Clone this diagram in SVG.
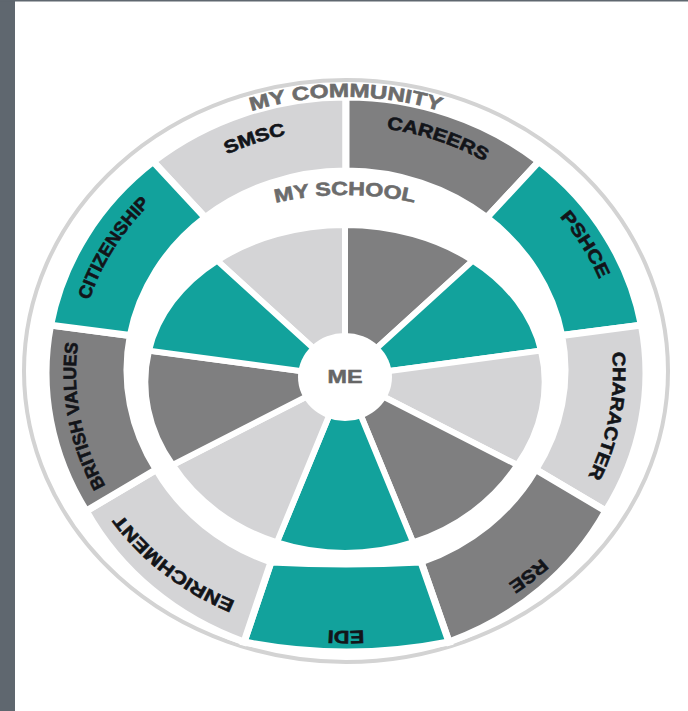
<svg xmlns="http://www.w3.org/2000/svg" width="688" height="711" viewBox="0 0 688 711">
<style>
.teal{fill:#12a29c}
.dark{fill:#7f7f80}
.light{fill:#d4d4d6}
.seg{stroke:#fff;stroke-width:7;stroke-linejoin:miter}
.wedge{stroke:#fff;stroke-width:6;stroke-linejoin:miter}
.lbl{font-family:"Liberation Sans",Arial,sans-serif;font-weight:bold;font-size:18px;fill:#121419;stroke:#121419;stroke-width:0.6}
.band{font-family:"Liberation Sans",Arial,sans-serif;font-weight:bold;font-size:19px;fill:#6c6c6c;stroke:#6c6c6c;stroke-width:0.6}
</style>
<defs>
<path id="p-community" d="M173.9,146.9 A300 276 0 0 1 518.1,146.9"/>
<path id="p-school" d="M190.7,237.6 A240 182 0 0 1 499.3,237.6"/>
<path id="p-smsc" d="M175.3,185.9 A265.5 244.3 0 0 1 346,128.7"/>
<path id="p-careers" d="M346,126 A268.5 247 0 0 1 518.6,183.8"/>
<path id="p-pshce" d="M521.5,180.6 A273 251.2 0 0 1 614.8,329.4"/>
<path id="p-character" d="M608.9,330.4 A267 245.6 0 0 1 577.2,495.8"/>
<path id="p-rse" d="M588.9,502 A280.5 258.1 0 0 1 441.9,615.5"/>
<path id="p-edi" d="M441.9,615.4 A280.4 258 0 0 1 250.1,615.4"/>
<path id="p-enrichment" d="M253.1,607.7 A271.5 249.8 0 0 1 110.9,497.9"/>
<path id="p-bv" d="M112.2,497.2 A270 248.4 0 0 1 80.1,329.9"/>
<path id="p-citizenship" d="M81.6,330.1 A268.5 247 0 0 1 173.4,183.8"/>
</defs>
<rect x="0" y="0" width="688" height="711" fill="#ffffff"/>
<rect x="0" y="0" width="15" height="711" fill="#5f676f"/>
<rect x="0" y="0" width="688" height="1.5" fill="#5f676f"/>

<g id="outer-ring">
<ellipse cx="346" cy="371" rx="322" ry="291" fill="none" stroke="#d3d3d3" stroke-width="4"/>
</g>

<g id="smsc">
<path class="seg light" d="M153.2,161.6 A300 276 0 0 1 346,97 L346,171 A219 199 0 0 0 205.2,217.6 Z"/>
<text class="lbl"><textPath href="#p-smsc" startOffset="50%" text-anchor="middle" textLength="62" lengthAdjust="spacingAndGlyphs">SMSC</textPath></text>
</g>
<g id="careers">
<path class="seg dark" d="M346,97 A300 276 0 0 1 538.8,161.6 L486.8,217.6 A219 199 0 0 0 346,171 Z"/>
<text class="lbl"><textPath href="#p-careers" startOffset="50%" text-anchor="middle" textLength="104" lengthAdjust="spacingAndGlyphs">CAREERS</textPath></text>
</g>
<g id="pshce">
<path class="seg teal" d="M538.8,161.6 A300 276 0 0 1 641.4,325.1 L561.7,335.5 A219 199 0 0 0 486.8,217.6 Z"/>
<text class="lbl"><textPath href="#p-pshce" startOffset="50%" text-anchor="middle" textLength="74" lengthAdjust="spacingAndGlyphs">PSHCE</textPath></text>
</g>
<g id="character">
<path class="seg light" d="M641.4,325.1 A300 276 0 0 1 605.8,511 L535.7,469.5 A219 199 0 0 0 561.7,335.5 Z"/>
<text class="lbl"><textPath href="#p-character" startOffset="50%" text-anchor="middle" textLength="128" lengthAdjust="spacingAndGlyphs">CHARACTER</textPath></text>
</g>
<g id="rse">
<path class="seg dark" d="M605.8,511 A300 276 0 0 1 449,642 L421,562 A219 199 0 0 0 535.7,469.5 Z"/>
<text class="lbl"><textPath href="#p-rse" startOffset="50%" text-anchor="middle" textLength="42" lengthAdjust="spacingAndGlyphs">RSE</textPath></text>
</g>
<g id="edi">
<path class="seg teal" d="M449,642 A530 530 0 0 1 244,642 L271,562 A1500 1500 0 0 0 421,562 Z"/>
<text class="lbl"><textPath href="#p-edi" startOffset="50%" text-anchor="middle" textLength="36" lengthAdjust="spacingAndGlyphs">EDI</textPath></text>
</g>
<g id="enrichment">
<path class="seg light" d="M244,642 A300 276 0 0 1 86.2,511 L156.3,469.5 A219 199 0 0 0 271,562 Z"/>
<text class="lbl"><textPath href="#p-enrichment" startOffset="50%" text-anchor="middle" textLength="145" lengthAdjust="spacingAndGlyphs">ENRICHMENT</textPath></text>
</g>
<g id="british-values">
<path class="seg dark" d="M86.2,511 A300 276 0 0 1 50.6,325.1 L130.3,335.5 A219 199 0 0 0 156.3,469.5 Z"/>
<text class="lbl"><textPath href="#p-bv" startOffset="50%" text-anchor="middle" textLength="148" lengthAdjust="spacingAndGlyphs">BRITISH VALUES</textPath></text>
</g>
<g id="citizenship">
<path class="seg teal" d="M50.6,325.1 A300 276 0 0 1 153.2,161.6 L205.2,217.6 A219 199 0 0 0 130.3,335.5 Z"/>
<text class="lbl"><textPath href="#p-citizenship" startOffset="50%" text-anchor="middle" textLength="115" lengthAdjust="spacingAndGlyphs">CITIZENSHIP</textPath></text>
</g>

<g id="my-community">
<path d="M240,104 A322 291 0 0 1 452,104" fill="none" stroke="#fff" stroke-width="10"/>
<text class="band"><textPath href="#p-community" startOffset="50%" text-anchor="middle" textLength="192" lengthAdjust="spacingAndGlyphs">MY COMMUNITY</textPath></text>
</g>

<g id="my-school">
<g id="inner-smsc"><path class="wedge light" d="M345,377 L217.1,260.6 A199 152 0 0 1 345,225 Z"/></g>
<g id="inner-careers"><path class="wedge dark" d="M345,377 L345,225 A199 152 0 0 1 472.9,260.6 Z"/></g>
<g id="inner-pshce"><path class="wedge teal" d="M345,377 L472.9,260.6 A199 152 0 0 1 541,350.6 Z"/></g>
<g id="inner-character"><path class="wedge light" d="M345,377 L541,350.6 A199 164 0 0 1 517.3,465 Z"/></g>
<g id="inner-rse"><path class="wedge dark" d="M345,377 L517.3,465 A199 176 0 0 1 413.1,542.4 Z"/></g>
<g id="inner-edi"><path class="wedge teal" d="M345,377 L413.1,542.4 A199 176 0 0 1 276.9,542.4 Z"/></g>
<g id="inner-enrichment"><path class="wedge light" d="M345,377 L276.9,542.4 A199 176 0 0 1 172.7,465 Z"/></g>
<g id="inner-british-values"><path class="wedge dark" d="M345,377 L172.7,465 A199 164 0 0 1 149,350.6 Z"/></g>
<g id="inner-citizenship"><path class="wedge teal" d="M345,377 L149,350.6 A199 152 0 0 1 217.1,260.6 Z"/></g>
<text class="band"><textPath href="#p-school" startOffset="50%" text-anchor="middle" textLength="140" lengthAdjust="spacingAndGlyphs">MY SCHOOL</textPath></text>
</g>

<g id="me">
<ellipse cx="345" cy="377" rx="47" ry="44" fill="#ffffff"/>
<text x="345" y="382.5" text-anchor="middle" font-family="Liberation Sans, Arial, sans-serif" font-weight="bold" font-size="18" fill="#666666" stroke="#666666" stroke-width="0.5" textLength="35" lengthAdjust="spacingAndGlyphs">ME</text>
</g>
</svg>
